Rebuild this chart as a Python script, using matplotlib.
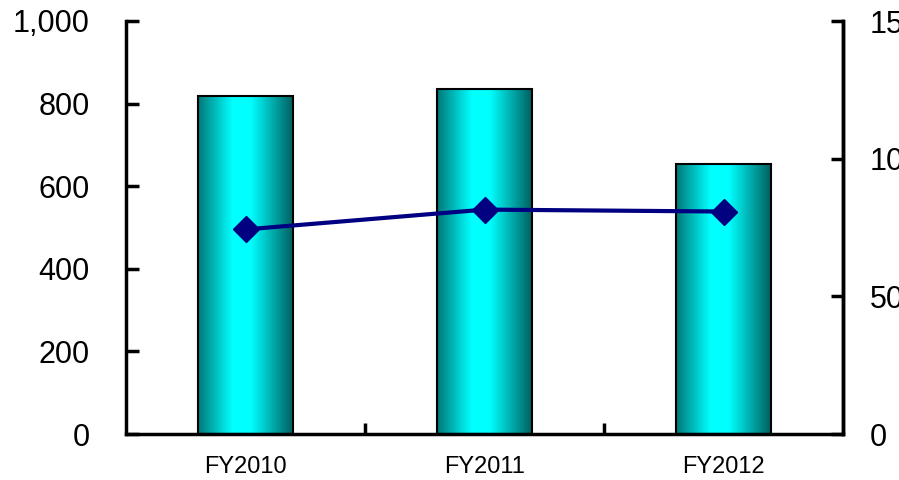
import numpy as np
import matplotlib
matplotlib.use('Agg')
import matplotlib.pyplot as plt
from matplotlib.colors import LinearSegmentedColormap
from matplotlib.ticker import FuncFormatter

categories = ['FY2010', 'FY2011', 'FY2012']
bar_values = [818, 835, 654]
line_values = [743, 815, 808]
left_ticks = [0, 200, 400, 600, 800, 1000]
right_ticks = [0, 500, 1000, 1500]

plt.rcParams['font.family'] = ['Liberation Sans', 'DejaVu Sans']

fig = plt.figure(figsize=(8.99, 4.80), dpi=100)
ax = fig.add_axes([126 / 899, 46 / 480, 717 / 899, 413 / 480])
ax2 = ax.twinx()

x = np.arange(len(categories))
bars = ax.bar(x, bar_values, width=0.4, facecolor='none', edgecolor='black',
              linewidth=1.5, zorder=3)

# horizontal teal -> cyan -> teal shading inside each bar
cmap = LinearSegmentedColormap.from_list(
    'teal', [(0.0, '#007878'), (0.36, '#00ffff'), (0.55, '#00ffff'), (1.0, '#005c5c')])
grad = np.linspace(0, 1, 256).reshape(1, -1)
for b in bars:
    x0, y0 = b.get_x(), b.get_y()
    im = ax.imshow(grad, cmap=cmap, aspect='auto', zorder=2,
                   extent=[x0, x0 + b.get_width(), y0, y0 + b.get_height()])
    im.set_clip_path(b)

ax.set_xlim(-0.5, len(categories) - 0.5)
ax.set_ylim(0, 1000)
ax.set_yticks(left_ticks)
ax.yaxis.set_major_formatter(FuncFormatter(lambda v, p: f'{int(v):,}'))
ax.set_xticks(x)
ax.set_xticklabels(categories)
ax.set_xticks(x[:-1] + 0.5, minor=True)

ax2.plot(x, line_values, color='#000080', linewidth=3, marker='D',
         markersize=13, zorder=4)
ax2.set_ylim(0, 1500)
ax2.set_yticks(right_ticks)

for a in (ax, ax2):
    for s in a.spines.values():
        s.set_linewidth(2.5)
    a.spines['top'].set_visible(False)
ax2.spines['left'].set_visible(False)
ax2.spines['bottom'].set_visible(False)

ax.tick_params(axis='y', direction='in', length=9, width=2.5, labelsize=22, pad=26)
ax.tick_params(axis='x', which='major', length=0, labelsize=17, pad=16)
ax.tick_params(axis='x', which='minor', direction='in', length=8, width=2.5)
ax2.tick_params(axis='y', direction='in', length=9, width=2.5, labelsize=22, pad=19)

fig.savefig('out.png', dpi=100)
